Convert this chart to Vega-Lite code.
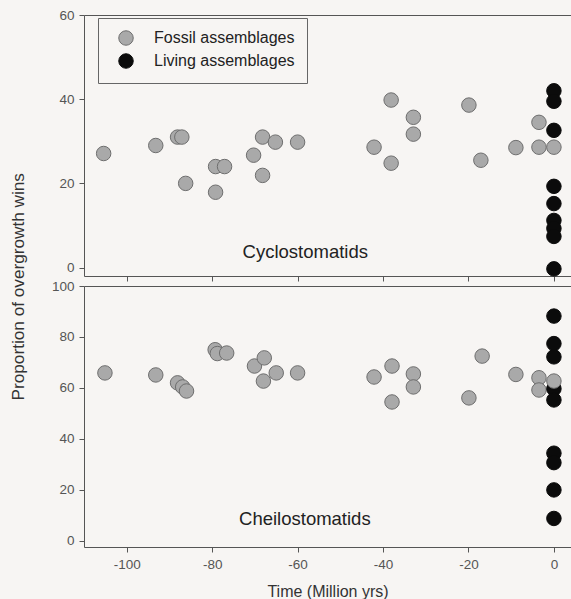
{
  "$schema": "https://vega.github.io/schema/vega-lite/v6.json",
  "background": "#f7f5f3",
  "padding": {"left": 9, "top": 7, "right": 0, "bottom": 0},
  "bounds": "flush",
  "config": {
    "font": "Liberation Sans",
    "view": {"stroke": "#555555", "strokeWidth": 1},
    "axis": {"grid": false, "domain": false, "tickColor": "#555555", "tickSize": 5, "labelColor": "#555555", "labelFontSize": 13.5, "labelPadding": 5, "titleFontWeight": "normal", "titleFontSize": 16, "titleColor": "#333333"},
    "concat": {"spacing": 10}
  },
  "title": {"text": "Proportion of overgrowth wins", "orient": "left", "anchor": "middle", "fontSize": 17.2, "fontWeight": "normal", "color": "#333333", "offset": 24, "dx": 17},
  "resolve": {"legend": {"fill": "independent", "stroke": "independent"}},
  "datasets": {
    "top": [
      {"time": -105.4, "value": 27.1, "type": "Fossil assemblages"},
      {"time": -93.2, "value": 29.0, "type": "Fossil assemblages"},
      {"time": -88.1, "value": 31.0, "type": "Fossil assemblages"},
      {"time": -87.1, "value": 31.0, "type": "Fossil assemblages"},
      {"time": -86.2, "value": 20.0, "type": "Fossil assemblages"},
      {"time": -79.2, "value": 17.9, "type": "Fossil assemblages"},
      {"time": -79.2, "value": 24.0, "type": "Fossil assemblages"},
      {"time": -77.1, "value": 24.0, "type": "Fossil assemblages"},
      {"time": -70.3, "value": 26.7, "type": "Fossil assemblages"},
      {"time": -68.2, "value": 31.0, "type": "Fossil assemblages"},
      {"time": -68.2, "value": 21.9, "type": "Fossil assemblages"},
      {"time": -65.2, "value": 29.8, "type": "Fossil assemblages"},
      {"time": -60.0, "value": 29.8, "type": "Fossil assemblages"},
      {"time": -42.1, "value": 28.6, "type": "Fossil assemblages"},
      {"time": -38.1, "value": 39.8, "type": "Fossil assemblages"},
      {"time": -38.1, "value": 24.8, "type": "Fossil assemblages"},
      {"time": -32.9, "value": 35.7, "type": "Fossil assemblages"},
      {"time": -32.9, "value": 31.7, "type": "Fossil assemblages"},
      {"time": -19.9, "value": 38.6, "type": "Fossil assemblages"},
      {"time": -17.1, "value": 25.5, "type": "Fossil assemblages"},
      {"time": -8.9, "value": 28.5, "type": "Fossil assemblages"},
      {"time": -3.5, "value": 34.5, "type": "Fossil assemblages"},
      {"time": -3.5, "value": 28.6, "type": "Fossil assemblages"},
      {"time": 0, "value": 42.0, "type": "Living assemblages"},
      {"time": 0, "value": 39.5, "type": "Living assemblages"},
      {"time": 0, "value": 32.6, "type": "Living assemblages"},
      {"time": 0, "value": 19.3, "type": "Living assemblages"},
      {"time": 0, "value": 15.2, "type": "Living assemblages"},
      {"time": 0, "value": 11.2, "type": "Living assemblages"},
      {"time": 0, "value": 9.3, "type": "Living assemblages"},
      {"time": 0, "value": 7.4, "type": "Living assemblages"},
      {"time": 0, "value": -0.3, "type": "Living assemblages"},
      {"time": 0, "value": 28.6, "type": "Fossil assemblages"}
    ],
    "bottom": [
      {"time": -105.1, "value": 65.9, "type": "Fossil assemblages"},
      {"time": -93.2, "value": 65.1, "type": "Fossil assemblages"},
      {"time": -88.1, "value": 62.0, "type": "Fossil assemblages"},
      {"time": -86.9, "value": 60.4, "type": "Fossil assemblages"},
      {"time": -86.0, "value": 58.8, "type": "Fossil assemblages"},
      {"time": -79.3, "value": 75.0, "type": "Fossil assemblages"},
      {"time": -78.8, "value": 73.5, "type": "Fossil assemblages"},
      {"time": -76.6, "value": 73.7, "type": "Fossil assemblages"},
      {"time": -70.1, "value": 68.6, "type": "Fossil assemblages"},
      {"time": -67.8, "value": 71.8, "type": "Fossil assemblages"},
      {"time": -68.0, "value": 62.7, "type": "Fossil assemblages"},
      {"time": -65.0, "value": 65.9, "type": "Fossil assemblages"},
      {"time": -60.0, "value": 65.9, "type": "Fossil assemblages"},
      {"time": -42.1, "value": 64.3, "type": "Fossil assemblages"},
      {"time": -37.9, "value": 68.6, "type": "Fossil assemblages"},
      {"time": -37.9, "value": 54.5, "type": "Fossil assemblages"},
      {"time": -32.9, "value": 65.5, "type": "Fossil assemblages"},
      {"time": -32.9, "value": 60.4, "type": "Fossil assemblages"},
      {"time": -19.9, "value": 56.1, "type": "Fossil assemblages"},
      {"time": -16.8, "value": 72.5, "type": "Fossil assemblages"},
      {"time": -8.9, "value": 65.3, "type": "Fossil assemblages"},
      {"time": -3.5, "value": 64.0, "type": "Fossil assemblages"},
      {"time": -3.5, "value": 59.2, "type": "Fossil assemblages"},
      {"time": 0, "value": 88.2, "type": "Living assemblages"},
      {"time": 0, "value": 77.4, "type": "Living assemblages"},
      {"time": 0, "value": 72.2, "type": "Living assemblages"},
      {"time": 0, "value": 59.7, "type": "Living assemblages"},
      {"time": 0, "value": 55.3, "type": "Living assemblages"},
      {"time": 0, "value": 34.4, "type": "Living assemblages"},
      {"time": 0, "value": 30.7, "type": "Living assemblages"},
      {"time": 0, "value": 20.0, "type": "Living assemblages"},
      {"time": 0, "value": 8.8, "type": "Living assemblages"},
      {"time": 0, "value": 62.7, "type": "Fossil assemblages"}
    ]
  },
  "vconcat": [
    {
      "width": 487,
      "height": 261,
      "layer": [
        {
          "data": {"name": "top"},
          "mark": {"type": "circle", "size": 210, "opacity": 1, "strokeWidth": 1},
          "encoding": {
            "x": {"field": "time", "type": "quantitative", "scale": {"domain": [-110, 4], "nice": false, "zero": false}, "axis": {"values": [-100, -80, -60, -40, -20, 0], "labels": false, "title": null}},
            "y": {"field": "value", "type": "quantitative", "scale": {"domain": [-2, 60], "nice": false, "zero": false}, "axis": {"values": [0, 20, 40, 60], "title": null}},
            "fill": {"field": "type", "type": "nominal", "scale": {"domain": ["Fossil assemblages", "Living assemblages"], "range": ["#a9a9a9", "#0b0b0b"]},
              "legend": {"title": null, "orient": "none", "legendX": 14, "legendY": 3, "strokeColor": "#666666", "fillColor": "#f7f5f3", "padding": 12, "labelFontSize": 16, "labelColor": "#222222", "symbolSize": 210, "rowPadding": 3, "labelOffset": 20, "symbolOffset": 8, "symbolType": "circle", "symbolStrokeColor": "#6e6e6e", "symbolStrokeWidth": 1}},
            "stroke": {"field": "type", "type": "nominal", "scale": {"domain": ["Fossil assemblages", "Living assemblages"], "range": ["#6e6e6e", "#0b0b0b"]}, "legend": null}
          }
        },
        {
          "data": {"values": [{"label": "Cyclostomatids"}]},
          "mark": {"type": "text", "fontSize": 18.5, "color": "#222222", "align": "center", "baseline": "middle"},
          "encoding": {"text": {"field": "label"}, "x": {"datum": -58.2}, "y": {"datum": 3.8}}
        }
      ]
    },
    {
      "width": 487,
      "height": 261,
      "layer": [
        {
          "data": {"name": "bottom"},
          "mark": {"type": "circle", "size": 210, "opacity": 1, "strokeWidth": 1},
          "encoding": {
            "x": {"field": "time", "type": "quantitative", "scale": {"domain": [-110, 4], "nice": false, "zero": false}, "axis": {"values": [-100, -80, -60, -40, -20, 0], "title": "Time (Million yrs)", "titlePadding": 13, "labelExpr": "datum.value < 0 ? '-' + abs(datum.value) : '' + datum.value"}},
            "y": {"field": "value", "type": "quantitative", "scale": {"domain": [-2.4, 100], "nice": false, "zero": false}, "axis": {"values": [0, 20, 40, 60, 80, 100], "title": null}},
            "fill": {"field": "type", "type": "nominal", "scale": {"domain": ["Fossil assemblages", "Living assemblages"], "range": ["#a9a9a9", "#0b0b0b"]}, "legend": null},
            "stroke": {"field": "type", "type": "nominal", "scale": {"domain": ["Fossil assemblages", "Living assemblages"], "range": ["#6e6e6e", "#0b0b0b"]}, "legend": null}
          }
        },
        {
          "data": {"values": [{"label": "Cheilostomatids"}]},
          "mark": {"type": "text", "fontSize": 18.5, "color": "#222222", "align": "center", "baseline": "middle"},
          "encoding": {"text": {"field": "label"}, "x": {"datum": -58.3}, "y": {"datum": 8.6}}
        }
      ]
    }
  ]
}
